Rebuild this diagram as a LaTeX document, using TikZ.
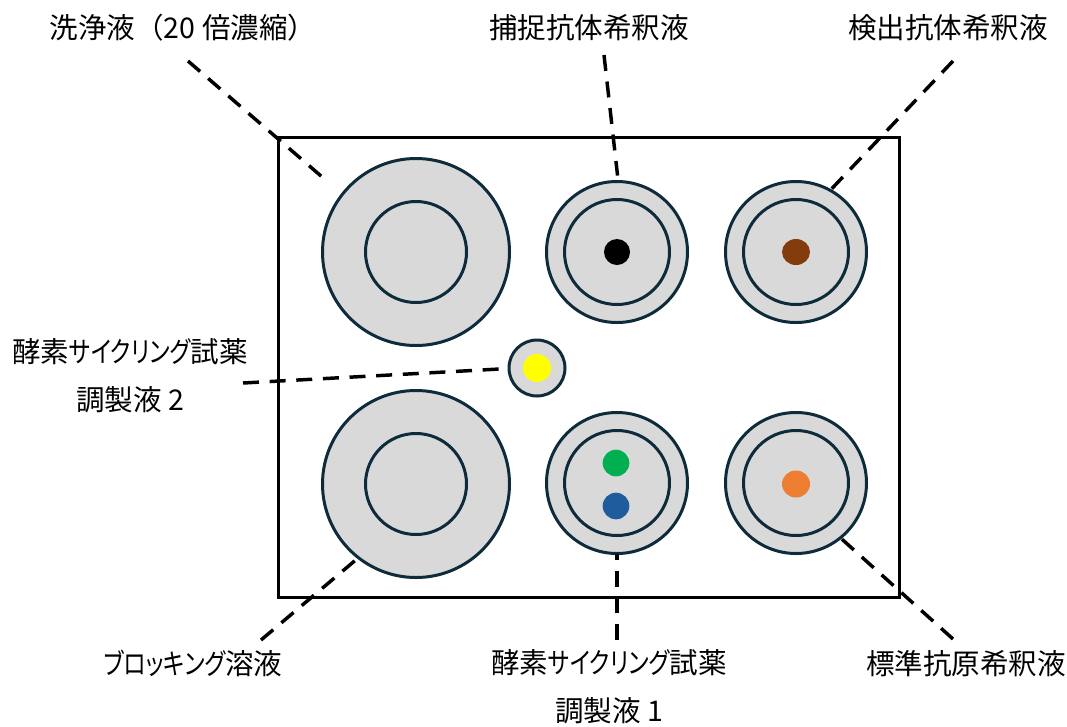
\documentclass[tikz,border=0pt]{standalone}
\usepackage{fontspec}
\setmainfont{Noto Sans CJK JP}
\newfontfamily\kanafont[RawFeature=+palt,FakeStretch=0.8]{Noto Sans CJK JP}
\usetikzlibrary{shapes.geometric}
\usetikzlibrary{positioning}
\usepackage{xcolor}
\definecolor{wellline}{HTML}{0E2B3C}
\definecolor{wellfill}{HTML}{D9D9D9}
\definecolor{dotbrown}{HTML}{843C0C}
\definecolor{dotgreen}{HTML}{00B050}
\definecolor{dotblue}{HTML}{1F5C9E}
\definecolor{dotorange}{HTML}{ED7D31}
\definecolor{dotyellow}{HTML}{FFFF00}
\newcommand{\kana}[1]{{\kanafont #1}}

\begin{document}
\begin{tikzpicture}[x=0.75pt,y=-0.75pt,
    every node/.style={inner sep=0pt,outer sep=0pt},
    well/.style={circle,draw=wellline,fill=wellfill,line width=2.25pt,minimum size=#1},
    ring/.style={circle,draw=wellline,line width=2.25pt,minimum size=#1},
    dot/.style={circle,fill=#1,minimum size=20pt},
    blob/.style={ellipse,fill=#1,minimum width=21pt,minimum height=19.5pt},
    lbl/.style={font=\fontsize{21.4}{36}\selectfont,align=center,anchor=base},
    leader/.style={black,line width=2.6pt,dash pattern=on 12pt off 8pt}]
    \useasboundingbox (0,0) rectangle (1067,726);

    % plate
    \draw[black,line width=2.25pt] (278,137) rectangle (899,597);

    % wells
    \node[well=140.25pt] (wash) at (416,252) {};
    \node[ring=75.75pt] at (wash) {};
    \node[well=140.25pt] (block) at (416,484) {};
    \node[ring=75.75pt] at (block) {};
    \node[well=105.75pt] (capt) at (617,252) {};
    \node[ring=78.75pt] at (capt) {};
    \node[dot=black,minimum size=19.5pt] at (capt) {};
    \node[well=105.75pt] (detect) at (796,252) {};
    \node[ring=78.75pt] at (detect) {};
    \node[blob=dotbrown,minimum height=19.5pt] at (detect) {};
    \node[well=105.75pt] (enzA) at (617,483) {};
    \node[ring=78.75pt] at (enzA) {};
    \node[dot=dotgreen] at (616,463) {};
    \node[dot=dotblue] at (616,506) {};
    \node[well=105.75pt] (std) at (796,483) {};
    \node[ring=78.75pt] at (std) {};
    \node[blob=dotorange,minimum height=20.25pt] at (796,484) {};
    \node[well=42pt] (enzB) at (537,368) {};
    \node[dot=dotyellow,minimum size=21pt] at (enzB) {};

    % labels (base = last line)
    \node[lbl] (wash-lbl) at (183,38.6) {洗浄液（20 倍濃縮）};
    \node[lbl] (capt-lbl) at (589,38.6) {捕捉抗体希釈液};
    \node[lbl] (detect-lbl) at (948,38.6) {検出抗体希釈液};
    \node[lbl] (enzB-lbl) at (130,410.6) {酵素\kana{サイクリング}試薬\\調製液 2};
    \node[lbl] (block-lbl) at (193,674.6) {\kana{ブロッキング}溶液};
    \node[lbl] (enzA-lbl) at (609,721.6) {酵素\kana{サイクリング}試薬\\調製液 1};
    \node[lbl] (std-lbl) at (966,674.6) {標準抗原希釈液};

    % leaders
    \coordinate (wash-tip) at (188,61);
    \coordinate (capt-tip) at (604,55);
    \coordinate (detect-tip) at (953,61);
    \coordinate (enzB-tip) at (243,383);
    \coordinate (block-tip) at (261,640);
    \coordinate (enzA-tip) at (617,640);
    \coordinate (std-tip) at (953,639);
    \draw[leader,shorten >=14pt] (wash-tip) -- (wash.142.8);
    \draw[leader,shorten >=4.5pt] (capt-tip) -- (capt.89.3);
    \draw[leader] (detect-tip) -- (detect.61.3);
    \draw[leader,shorten >=3.75pt] (enzB-tip) -- (enzB.181.7);
    \draw[leader] (block-tip) -- (block.232.8);
    \draw[leader] (enzA-tip) -- (enzA.south);
    \draw[leader] (std-tip) -- (std.309.3);
\end{tikzpicture}
\end{document}
